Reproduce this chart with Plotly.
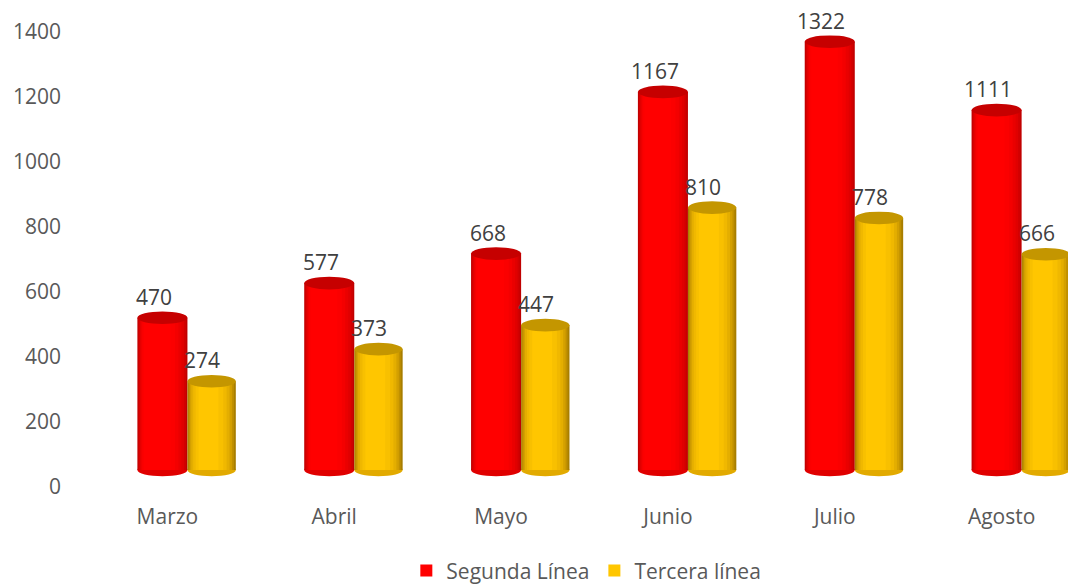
import plotly.graph_objects as go

months = ["Marzo", "Abril", "Mayo", "Junio", "Julio", "Agosto"]
segunda = [470, 577, 668, 1167, 1322, 1111]
tercera = [274, 373, 447, 810, 778, 666]
y_ticks = [0, 200, 400, 600, 800, 1000, 1200, 1400]

FONT = "Open Sans"
FS = 21
xs = list(range(len(months)))

red_layers = [(0.00, 1.00, "#c00000"), (0.02, 0.97, "#d20000"), (0.04, 0.93, "#e00000"),
              (0.06, 0.88, "#ea0000"), (0.08, 0.82, "#f40000"), (0.10, 0.75, "#fb0000"),
              (0.13, 0.66, "#ff0000")]
yel_layers = [(0.00, 1.00, "#a87e00"), (0.02, 0.96, "#c09000"), (0.05, 0.92, "#d4a000"),
              (0.08, 0.87, "#e4ae00"), (0.12, 0.81, "#f0b800"), (0.17, 0.74, "#f8c000"),
              (0.23, 0.64, "#ffc600")]

# (name, values, offset, width, layers, top colour, bottom colour, label dx)
series = [
    ("Segunda Línea", segunda, -0.18, 0.30, red_layers, "#c60000", "#e00000", -0.05),
    ("Tercera línea", tercera, 0.12, 0.29, yel_layers, "#c49600", "#e2aa00", -0.055),
]

fig = go.Figure()
shapes = []
annotations = []
EH = 19.5  # half height of cylinder ellipse in data units

for rank, (name, vals, off, wid, layers, topc, botc, dx) in enumerate(series):
    for i, v in zip(xs, vals):
        shapes.append(dict(type="circle", xref="x", yref="y", layer="below",
                           x0=i + off, x1=i + off + wid, y0=-EH, y1=EH,
                           fillcolor=botc, line=dict(width=0)))
    for k, (f0, f1, col) in enumerate(layers):
        last = k == len(layers) - 1
        fig.add_trace(go.Bar(
            x=xs, y=vals, name=name,
            offset=off + f0 * wid, width=(f1 - f0) * wid,
            marker=dict(color=col, line=dict(width=0)),
            showlegend=last, legendrank=rank + 1,
            hoverinfo="skip",
        ))
    for i, v in zip(xs, vals):
        shapes.append(dict(type="circle", xref="x", yref="y", layer="above",
                           x0=i + off, x1=i + off + wid, y0=v - EH, y1=v + EH,
                           fillcolor=topc, line=dict(width=0)))
        annotations.append(dict(x=i + off + wid / 2 + dx, y=v, xref="x", yref="y",
                                text=str(v), showarrow=False, yshift=21, yanchor="middle",
                                font=dict(family=FONT, size=FS, color="#404040")))

# carrier for the tick axis
fig.add_trace(go.Scatter(x=[None], y=[None], yaxis="y2", showlegend=False, hoverinfo="skip"))

fig.update_layout(
    width=1068, height=585,
    margin=dict(l=84, r=0, t=20, b=98),
    paper_bgcolor="white", plot_bgcolor="white",
    barmode="overlay",
    shapes=shapes, annotations=annotations,
    font=dict(family=FONT, color="#595959", size=FS),
    xaxis=dict(range=[-0.5, 5.398], tickvals=xs, ticktext=months, showgrid=False,
               zeroline=False, showline=False, ticks="", ticklabelstandoff=15,
               tickfont=dict(family=FONT, size=FS, color="#595959")),
    yaxis=dict(range=[-52.5, 1389], visible=False, showgrid=False, zeroline=False),
    yaxis2=dict(range=[0, 1437], overlaying="y", side="left", anchor="x",
                tickvals=y_ticks, showgrid=False, zeroline=False, showline=False, ticks="",
                ticklabelstandoff=22, tickfont=dict(family=FONT, size=FS, color="#595959")),
    legend=dict(orientation="h", xref="container", yref="container", x=0.549, y=0.024,
                xanchor="center", yanchor="middle", font=dict(family=FONT, size=FS, color="#595959"),
                itemclick=False, tracegroupgap=0, traceorder="normal"),
    showlegend=True,
)

fig.write_html("out.html")
